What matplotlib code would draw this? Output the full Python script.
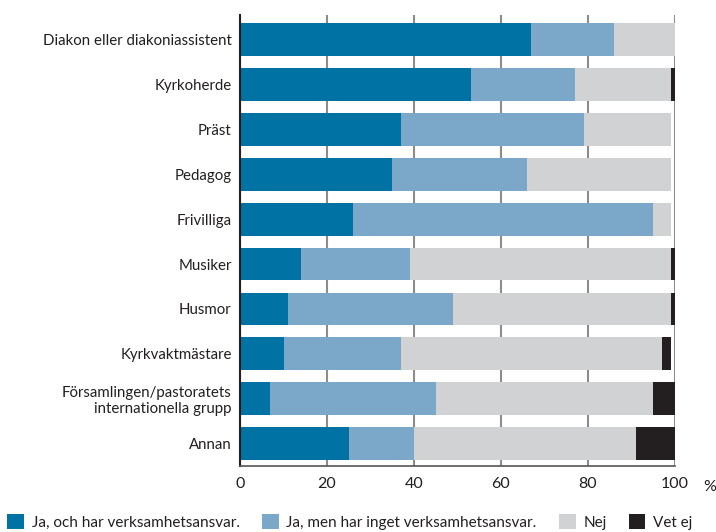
import matplotlib.pyplot as plt
from matplotlib.patches import Patch

plt.rcParams['font.family'] = ['Lato', 'DejaVu Sans']

categories = ["Diakon eller diakoniassistent", "Kyrkoherde", "Präst", "Pedagog",
              "Frivilliga", "Musiker", "Husmor", "Kyrkvaktmästare",
              "Församlingen/pastoratets\ninternationella grupp", "Annan"]
ja_ansvar = [67, 53, 37, 35, 26, 14, 11, 10, 7, 25]
ja_inget = [19, 24, 42, 31, 69, 25, 38, 27, 38, 15]
nej = [14, 22, 20, 33, 4, 60, 50, 60, 50, 51]
vet_ej = [0, 1, 0, 0, 0, 1, 1, 2, 5, 9]
series_names = ["Ja, och har verksamhetsansvar.", "Ja, men har inget verksamhetsansvar.",
                "Nej", "Vet ej"]
colors = ["#0072a3", "#7ba8c9", "#d1d2d4", "#231f20"]
xticks = [0, 20, 40, 60, 80, 100]

fig = plt.figure(figsize=(7.16, 5.32), dpi=100)
ax = fig.add_axes([240/716, 1 - 466/532, 435/716, 451/532])

y = list(range(len(categories)))
left = [0] * len(categories)
for vals, col in zip([ja_ansvar, ja_inget, nej, vet_ej], colors):
    ax.barh(y, vals, left=left, height=0.73, color=col, zorder=2)
    left = [a + b for a, b in zip(left, vals)]

ax.set_xlim(0, 100)
ax.set_ylim(9.5, -0.55)
ax.set_yticks(y)
ax.set_yticklabels(categories, fontsize=10.8, color="#231f20")
ax.set_xticks(xticks)
ax.set_xticklabels([str(t) for t in xticks], fontsize=11.5, color="#231f20")
ax.tick_params(axis='y', length=0, pad=6)
ax.tick_params(axis='x', length=0, pad=8)
ax.grid(axis='x', color="#8c8c8c", linewidth=1.5, zorder=0)
ax.set_axisbelow(True)
for s in ['top', 'right']:
    ax.spines[s].set_visible(False)
ax.spines['left'].set_color("#231f20")
ax.spines['left'].set_linewidth(1.5)
ax.spines['bottom'].set_color("#555555")
ax.spines['bottom'].set_linewidth(1.2)
fig.text(710/716, 1 - 487/532, "%", fontsize=11.5, color="#231f20", ha='center', va='center')

handles = [Patch(facecolor=c, edgecolor='none') for c in colors]
fig.legend(handles, series_names, loc='center left', bbox_to_anchor=(0.006, 1 - 522/532),
           ncol=4, frameon=False, fontsize=11, handlelength=1.1, handleheight=1.1,
           handletextpad=0.5, columnspacing=1.45, borderaxespad=0, borderpad=0.2,
           labelcolor="#231f20")

fig.savefig("out.png", dpi=100)
